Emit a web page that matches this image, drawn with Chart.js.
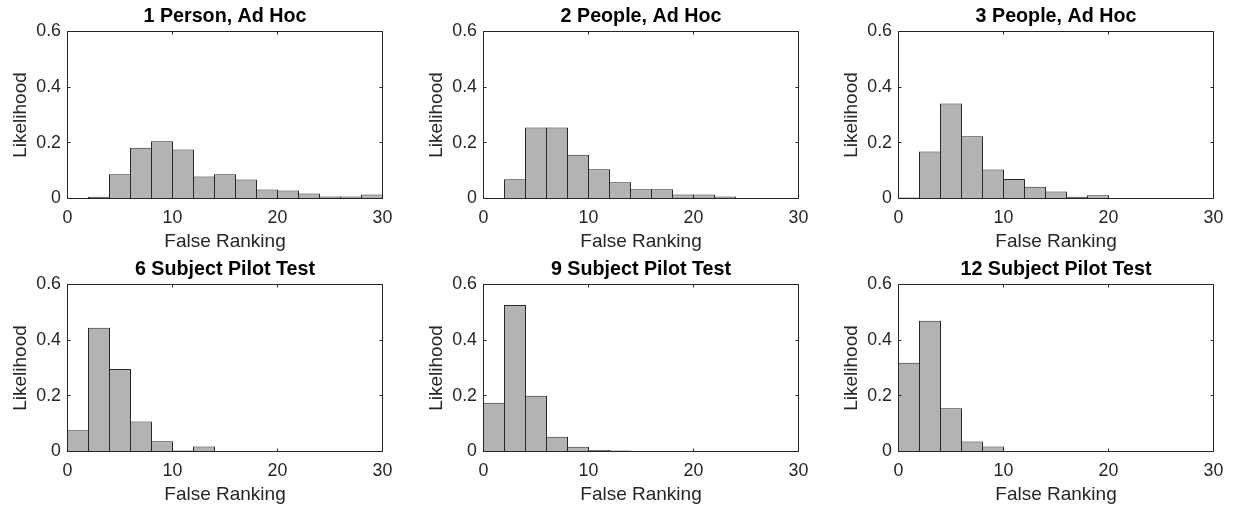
<!DOCTYPE html>
<html>
<head>
<meta charset="utf-8">
<script src="https://cdn.jsdelivr.net/npm/chart.js@4.4.1/dist/chart.umd.min.js"></script>
<style>
  body { margin: 0; background: #fff; }
  #wrap { position: relative; width: 1235px; height: 512px; overflow: hidden; }
  #wrap canvas { position: absolute; }
</style>
</head>
<body>
<div id="wrap">
  <canvas id="p1" width="404" height="256" style="left:0px;top:0px"></canvas>
  <canvas id="p2" width="404" height="256" style="left:416px;top:0px"></canvas>
  <canvas id="p3" width="404" height="256" style="left:831px;top:0px"></canvas>
  <canvas id="p4" width="404" height="256" style="left:0px;top:253px"></canvas>
  <canvas id="p5" width="404" height="256" style="left:416px;top:253px"></canvas>
  <canvas id="p6" width="404" height="256" style="left:831px;top:253px"></canvas>
</div>
<script>
// histogram bins are 2 wide, centred on these rankings
const binCenters = [1, 3, 5, 7, 9, 11, 13, 15, 17, 19, 21, 23, 25, 27, 29];

const person1Adhoc = [0, 0.006, 0.087, 0.182, 0.206, 0.176, 0.079, 0.087, 0.068, 0.032, 0.029, 0.018, 0.007, 0.007, 0.014];
const people2Adhoc = [0, 0.069, 0.255, 0.255, 0.157, 0.105, 0.058, 0.033, 0.033, 0.014, 0.014, 0.007, 0, 0, 0];
const people3Adhoc = [0.004, 0.169, 0.341, 0.224, 0.104, 0.07, 0.042, 0.025, 0.006, 0.012, 0, 0, 0, 0, 0];
const pilot6 = [0.076, 0.445, 0.296, 0.108, 0.037, 0.004, 0.018, 0, 0, 0, 0, 0, 0, 0, 0];
const pilot9 = [0.175, 0.526, 0.2, 0.053, 0.017, 0.005, 0.004, 0, 0, 0, 0, 0, 0, 0, 0];
const pilot12 = [0.319, 0.47, 0.155, 0.036, 0.018, 0, 0, 0, 0, 0, 0, 0, 0, 0, 0];

const xTickValues = [0, 10, 20, 30];
const yTickValues = [0, 0.2, 0.4, 0.6];

const titles = [
  "1 Person, Ad Hoc",
  "2 People, Ad Hoc",
  "3 People, Ad Hoc",
  "6 Subject Pilot Test",
  "9 Subject Pilot Test",
  "12 Subject Pilot Test",
];
const series = [person1Adhoc, people2Adhoc, people3Adhoc, pilot6, pilot9, pilot12];

const axisColor = "#262626";
Chart.defaults.font.family = '"Liberation Sans", Arial, Helvetica, sans-serif';
Chart.defaults.color = axisColor;

const snap = (v) => Math.round(v - 0.5) + 0.5;

// closed box with short inward ticks on all four sides
const boxPlugin = {
  id: "box",
  afterDatasetsDraw(chart) {
    const { ctx, chartArea: a, scales } = chart;
    const len = 3;
    ctx.save();
    ctx.strokeStyle = axisColor;
    ctx.lineWidth = 1;
    ctx.beginPath();
    scales.x.ticks.forEach((t) => {
      const px = snap(scales.x.getPixelForValue(t.value));
      ctx.moveTo(px, a.bottom);
      ctx.lineTo(px, a.bottom - len);
      ctx.moveTo(px, a.top);
      ctx.lineTo(px, a.top + len);
    });
    scales.y.ticks.forEach((t) => {
      const py = snap(scales.y.getPixelForValue(t.value));
      ctx.moveTo(a.left, py);
      ctx.lineTo(a.left + len, py);
      ctx.moveTo(a.right, py);
      ctx.lineTo(a.right - len, py);
    });
    ctx.rect(a.left, a.top, a.right - a.left, a.bottom - a.top);
    ctx.stroke();
    ctx.restore();
  },
};

function drawPanel(id, title, values) {
  new Chart(document.getElementById(id), {
    type: "bar",
    data: {
      datasets: [
        {
          data: binCenters.map((x, i) => ({ x: x, y: values[i] })),
          backgroundColor: "#b3b3b3",
          borderColor: axisColor,
          borderWidth: 1,
          borderSkipped: "start",
          inflateAmount: 0,
          barPercentage: 1,
          categoryPercentage: 1.05,
        },
      ],
    },
    options: {
      responsive: false,
      animation: false,
      layout: { padding: { left: 0, right: 21.5, top: 0, bottom: 0 } },
      plugins: {
        legend: { display: false },
        tooltip: { enabled: false },
        title: {
          display: true,
          text: title,
          fullSize: false,
          color: "#000",
          font: { size: 19.7, weight: "bold", lineHeight: 1.15 },
          padding: { top: 5.6, bottom: 3.25 },
        },
      },
      scales: {
        x: {
          type: "linear",
          min: 0,
          max: 30,
          offset: false,
          grid: { display: false, drawTicks: false },
          border: { display: false },
          afterBuildTicks: (s) => {
            s.ticks = xTickValues.map((v) => ({ value: v }));
          },
          afterFit: (s) => {
            s.height = 57.5;
          },
          ticks: { padding: 9, maxRotation: 0, autoSkip: false, font: { size: 17.8 } },
          title: {
            display: true,
            text: "False Ranking",
            font: { size: 19 },
            padding: { top: 0, bottom: 2.6 },
          },
        },
        y: {
          min: 0,
          max: 0.6,
          grid: { display: false, drawTicks: false },
          border: { display: false },
          afterBuildTicks: (s) => {
            s.ticks = yTickValues.map((v) => ({ value: v }));
          },
          afterFit: (s) => {
            s.width = 67.5;
          },
          ticks: { padding: 6.5, font: { size: 17.8 } },
          title: {
            display: true,
            text: "Likelihood",
            font: { size: 19 },
            padding: { top: 9, bottom: 0 },
          },
        },
      },
    },
    plugins: [boxPlugin],
  });
}

series.forEach((values, i) => drawPanel("p" + (i + 1), titles[i], values));
</script>
</body>
</html>
